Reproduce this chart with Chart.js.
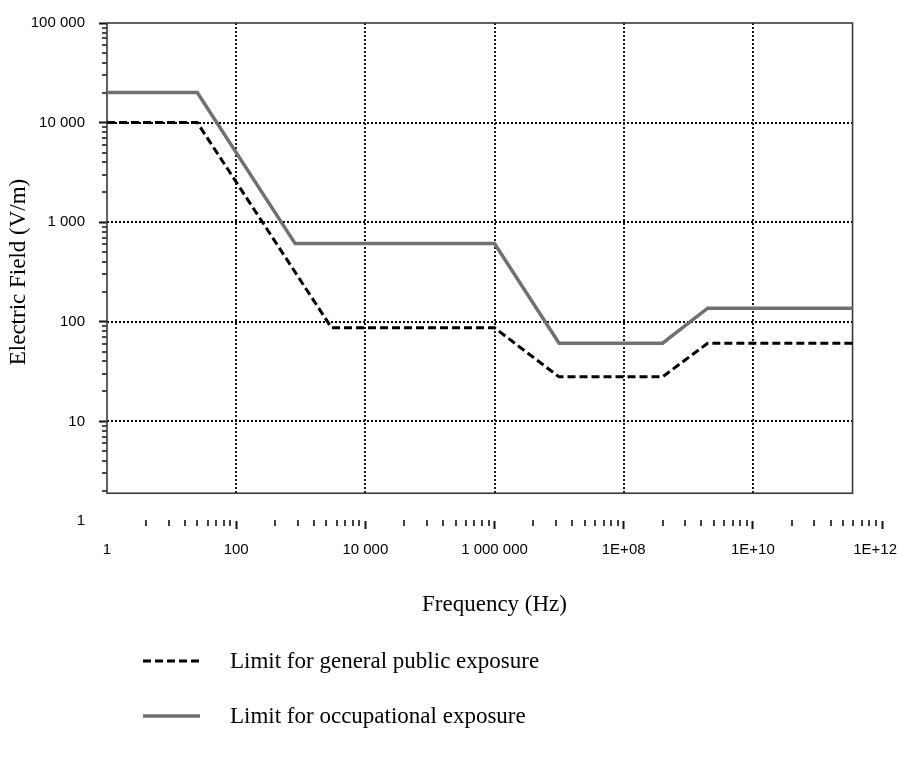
<!DOCTYPE html>
<html><head><meta charset="utf-8">
<script src="https://cdn.jsdelivr.net/npm/chart.js"></script>
<style>
html,body{margin:0;padding:0;background:#fff;width:897px;height:758px;overflow:hidden;}
#wrap{position:relative;width:897px;height:758px;}
#c{position:absolute;left:0;top:0;}
#legend{position:absolute;left:143px;top:0;font-family:'Liberation Serif','Times New Roman',serif;font-size:23px;color:#000;}
.item{position:absolute;left:0;display:flex;align-items:center;white-space:nowrap;height:30px;}
.item svg{display:block;}
.item span{margin-left:30px;}
</style></head><body>
<div id="wrap"><canvas id="c" width="897" height="758"></canvas><div id="legend"></div></div>
<script>
// ---- data ----
const frequencyPublic = [1, 25, 3000, 1e6, 1e7, 4e8, 2e9, 3.5e11];
const fieldPublic = [10000, 10000, 87, 87, 28, 28, 61, 61];
const frequencyOccupational = [1, 25, 820, 1e6, 1e7, 4e8, 2e9, 3.5e11];
const fieldOccupational = [20000, 20000, 610, 610, 61, 61, 137, 137];
const seriesLabels = ['Limit for general public exposure', 'Limit for occupational exposure'];

const xTickValues = [1, 1e2, 1e4, 1e6, 1e8, 1e10, 1e12];
const xTickLabels = ['1', '100', '10 000', '1 000 000', '1E+08', '1E+10', '1E+12'];
const yTickValues = [1, 10, 100, 1000, 10000, 100000];
const yTickLabels = ['1', '10', '100', '1 000', '10 000', '100 000'];
const xGridValues = [1e2, 1e4, 1e6, 1e8, 1e10];
const yGridValues = [10, 100, 1000, 10000];
const frameX = [1, 3.5e11];
const frameY = [1.9, 100000];

// minor tick values (axis decoration)
const xMinorTicks = [];
for (let n = 0; n < 6; n++) for (let k = 2; k <= 9; k++) xMinorTicks.push(k * k * Math.pow(100, n));
const yMinorTicks = [];
for (let n = 0; n < 5; n++) for (let k = 2; k <= 9; k++) yMinorTicks.push(k * Math.pow(10, n));

const serif = "'Liberation Serif','Times New Roman',serif";
const sans = "'Liberation Sans',Arial,sans-serif";

const framePlugin = {
  id: 'frame',
  beforeDraw(chart) {
    const xs = chart.scales.x;
    const items = xs.getLabelItems();
    const last = items[items.length - 1];
    if (last && last.label === xTickLabels[xTickLabels.length - 1]) {
      last.options.textAlign = 'right';
      last.options.translation[0] = chart.width;
    }
  },
  beforeDatasetsDraw(chart) {
    const {ctx, scales: {x, y}} = chart;
    const L = x.getPixelForValue(frameX[0]), R = x.getPixelForValue(frameX[1]);
    const T = y.getPixelForValue(frameY[1]), B = y.getPixelForValue(frameY[0]);
    ctx.save();
    // dotted grid
    ctx.strokeStyle = '#000';
    ctx.lineWidth = 1.8;
    ctx.setLineDash([2, 2]);
    ctx.beginPath();
    xGridValues.forEach(v => { const p = Math.round(x.getPixelForValue(v)); ctx.moveTo(p, T); ctx.lineTo(p, B); });
    yGridValues.forEach(v => { const p = Math.round(y.getPixelForValue(v)); ctx.moveTo(L, p); ctx.lineTo(R, p); });
    ctx.stroke();
    ctx.setLineDash([]);
    // minor ticks
    ctx.strokeStyle = '#111';
    ctx.lineWidth = 1.6;
    ctx.beginPath();
    const xb = x.top;
    xMinorTicks.forEach(v => { const p = Math.round(x.getPixelForValue(v)); ctx.moveTo(p, xb - 1); ctx.lineTo(p, xb + 5); });
    yMinorTicks.forEach(v => { const p = Math.round(y.getPixelForValue(v)); ctx.moveTo(L - 5, p); ctx.lineTo(L, p); });
    ctx.stroke();
    // frame
    ctx.strokeStyle = '#3a3a3a';
    ctx.lineWidth = 1.6;
    ctx.strokeRect(L, T, R - L, B - T);
    ctx.restore();
  }
};

const tickColorFn = (c) => (c.tick && c.tick.value === 1) ? 'rgba(0,0,0,0)' : '#111';

const chart = new Chart(document.getElementById('c'), {
  type: 'line',
  data: {
    datasets: [
      {
        label: seriesLabels[0],
        data: frequencyPublic.map((f, i) => ({x: f, y: fieldPublic[i]})),
        borderColor: '#000',
        borderWidth: 3,
        borderDash: [8, 4],
        pointRadius: 0,
        fill: false,
        tension: 0
      },
      {
        label: seriesLabels[1],
        data: frequencyOccupational.map((f, i) => ({x: f, y: fieldOccupational[i]})),
        borderColor: '#707070',
        borderWidth: 3.5,
        pointRadius: 0,
        fill: false,
        tension: 0
      }
    ]
  },
  options: {
    responsive: false,
    animation: false,
    devicePixelRatio: 1,
    layout: {padding: {left: 0, top: 15, right: 15, bottom: 137}},
    plugins: {legend: {display: false}, tooltip: {enabled: false}},
    scales: {
      x: {
        type: 'logarithmic',
        position: 'bottom',
        min: 1, max: 1e12,
        afterBuildTicks: (s) => { s.ticks = xTickValues.map(v => ({value: v})); },
        afterFit: (s) => { s.height = 100; s.paddingLeft = 0; s.paddingRight = 0; },
        ticks: {
          autoSkip: false, maxRotation: 0, padding: 12,
          font: {family: sans, size: 15}, color: '#000',
          callback: (v) => xTickLabels[xTickValues.indexOf(v)]
        },
        grid: {drawOnChartArea: false, drawTicks: true, tickLength: 8, tickWidth: 2, tickColor: tickColorFn},
        border: {display: false},
        title: {display: true, text: 'Frequency (Hz)', font: {family: serif, size: 23}, color: '#000', padding: {top: 0, bottom: 2}}
      },
      y: {
        type: 'logarithmic',
        position: 'left',
        min: 1, max: 100000,
        afterBuildTicks: (s) => { s.ticks = yTickValues.map(v => ({value: v})); },
        afterFit: (s) => { s.width = 107; },
        ticks: {
          autoSkip: false, padding: 14,
          font: {family: sans, size: 15}, color: '#000',
          callback: (v) => yTickLabels[yTickValues.indexOf(v)]
        },
        grid: {drawOnChartArea: false, drawTicks: true, tickLength: 8, tickWidth: 2, tickColor: tickColorFn},
        border: {display: false},
        title: {display: true, text: 'Electric Field (V/m)', font: {family: serif, size: 23}, color: '#000', padding: {top: 5, bottom: 0}}
      }
    }
  },
  plugins: [framePlugin]
});

// HTML legend built from the chart's datasets
const legendRows = [661, 716];
const legend = document.getElementById('legend');
chart.data.datasets.forEach((ds, i) => {
  const row = document.createElement('div');
  row.className = 'item';
  row.style.top = (legendRows[i] - 15) + 'px';
  const dash = ds.borderDash ? ds.borderDash.join(' ') : 'none';
  row.innerHTML = '<svg width="57" height="8"><line x1="0" y1="4" x2="57" y2="4" stroke="' + ds.borderColor +
    '" stroke-width="' + ds.borderWidth + '" stroke-dasharray="' + dash + '"/></svg>';
  const t = document.createElement('span');
  t.textContent = ds.label;
  row.appendChild(t);
  legend.appendChild(row);
});
</script>
</body></html>
